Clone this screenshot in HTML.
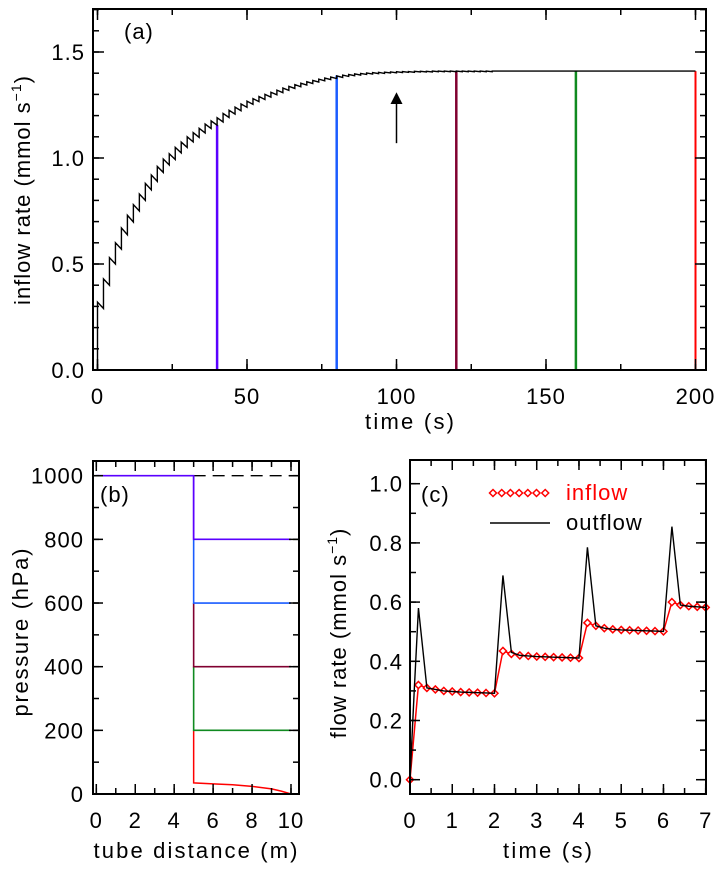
<!DOCTYPE html>
<html><head><meta charset="utf-8"><style>
html,body{margin:0;padding:0;background:#fff;}
svg{display:block;font-family:"Liberation Sans",sans-serif;}
</style></head><body>
<svg id="fig" width="723" height="871" viewBox="0 0 723 871" xmlns="http://www.w3.org/2000/svg"></svg>
<script>
// ---- Panel (a) data ----
const aStepTimes = [0,2,4,6,8,10,12,14,16,18,20,22,24,26,28,30,32,34,36,38,40,42,44,46,48,50,52,54,56,58,60,62,64,66,68,70,72,74,76,78,80,82,84,86,88,90,92,94,96,98,100,102,104,106,108,110,112,114,116,118,120,122,124,126,128,130];
const aPeaks = [0.32,0.43,0.53,0.60,0.67,0.73,0.78,0.83,0.88,0.92,0.96,0.995,1.02,1.05,1.075,1.10,1.12,1.14,1.16,1.175,1.19,1.21,1.225,1.24,1.255,1.268,1.28,1.29,1.30,1.31,1.32,1.33,1.338,1.346,1.353,1.36,1.366,1.372,1.377,1.382,1.387,1.391,1.394,1.397,1.399,1.401,1.403,1.404,1.405,1.406,1.407,1.408,1.408,1.409,1.409,1.409,1.41,1.41,1.41,1.41,1.41,1.41,1.41,1.41,1.41,1.41];
const aAmps = [0.03,0.03,0.03,0.03,0.032,0.032,0.03,0.03,0.03,0.03,0.028,0.028,0.027,0.026,0.025,0.024,0.023,0.022,0.021,0.02,0.02,0.019,0.018,0.017,0.016,0.015,0.014,0.014,0.013,0.012,0.012,0.011,0.01,0.01,0.009,0.009,0.008,0.008,0.007,0.007,0.007,0.006,0.006,0.006,0.005,0.005,0.005,0.005,0.004,0.004,0.004,0.004,0.004,0.003,0.003,0.003,0.003,0.003,0.003,0.003,0.003,0.003,0.003,0.003,0.003,0.003];
const aPlateau = 1.41;
const aEndTime = 200;
const aMarkTimes = [40,80,120,160,200];
const aMarkTops = [1.156,1.39,1.41,1.41,1.41];
const aMarkColors = ["#5a00ff","#1a5cff","#800030","#108a20","#ff0000"];
const aXTicks = [0,50,100,150,200];
const aYTicks = [0.0,0.5,1.0,1.5];
const aYTickLabels = ["0.0","0.5","1.0","1.5"];
// ---- Panel (b) data ----
const bXTicks = [0,2,4,6,8,10];
const bYTicks = [0,200,400,600,800,1000];
const bLevels = [800,600,400,200];
const bColors = ["#5a00ff","#1a5cff","#800030","#108a20"];
const bRedX = [5,6,7,8,9,9.5,10];
const bRedP = [35,32,29,24,16,9,0];
// ---- Panel (c) data ----
const cInT = [0,0.2,0.4,0.6,0.8,1.0,1.2,1.4,1.6,1.8,2.0,2.2,2.4,2.6,2.8,3.0,3.2,3.4,3.6,3.8,4.0,4.2,4.4,4.6,4.8,5.0,5.2,5.4,5.6,5.8,6.0,6.2,6.4,6.6,6.8,7.0];
const cInV = [0,0.32,0.31,0.305,0.30,0.298,0.296,0.295,0.294,0.293,0.292,0.435,0.425,0.42,0.418,0.416,0.415,0.414,0.413,0.412,0.411,0.53,0.52,0.512,0.508,0.506,0.505,0.504,0.503,0.502,0.501,0.60,0.59,0.586,0.584,0.582];
const cOutT = [0,0.1,0.2,0.4,0.6,0.8,1.0,1.2,1.4,1.6,1.8,2.0,2.2,2.4,2.6,2.8,3.0,3.2,3.4,3.6,3.8,4.0,4.2,4.4,4.6,4.8,5.0,5.2,5.4,5.6,5.8,6.0,6.2,6.4,6.6,6.8,7.0];
const cOutV = [0,0.30,0.58,0.31,0.305,0.30,0.298,0.296,0.295,0.294,0.293,0.292,0.69,0.43,0.42,0.418,0.416,0.415,0.414,0.413,0.412,0.411,0.785,0.52,0.512,0.508,0.506,0.505,0.504,0.503,0.502,0.501,0.855,0.59,0.586,0.584,0.582];
const cXTicks = [0,1,2,3,4,5,6,7];
const cYTicks = [0.0,0.2,0.4,0.6,0.8,1.0];
const cYTickLabels = ["0.0","0.2","0.4","0.6","0.8","1.0"];

const NS="http://www.w3.org/2000/svg";
const svg=document.getElementById('fig');
function mk(tag,attrs,parent){const e=document.createElementNS(NS,tag);for(const k in attrs)e.setAttribute(k,attrs[k]);(parent||svg).appendChild(e);return e;}
function scale(d0,d1,p0,p1){return v=>p0+(v-d0)*(p1-p0)/(d1-d0);}
const FS=22;

function frame(g,L,T,R,B){
  const r=mk('rect',{x:L,y:T,width:R-L,height:B-T,fill:'none',stroke:'#000','stroke-width':2},g);
  
  
}
function ticks(g,vals,sx,sy,L,T,R,B,axis,len){
  vals.forEach(v=>{
    if(axis==='x'){const x=sx(v);
      mk('line',{x1:x,y1:B,x2:x,y2:B-len,stroke:'#000','stroke-width':1.5},g);
      mk('line',{x1:x,y1:T,x2:x,y2:T+len,stroke:'#000','stroke-width':1.5},g);}
    else {const y=sy(v);
      mk('line',{x1:L,y1:y,x2:L+len,y2:y,stroke:'#000','stroke-width':1.5},g);
      mk('line',{x1:R,y1:y,x2:R-len,y2:y,stroke:'#000','stroke-width':1.5},g);}
  });
}
function txt(g,x,y,s,attrs,name){
  const t=mk('text',Object.assign({x:x,y:y,'font-size':FS,fill:'#000','letter-spacing':1},attrs||{}),g);
  t.textContent=s;
  
  
  return t;
}
function rangeStep(a,b,s){const o=[];for(let v=a;v<=b+1e-9;v+=s)o.push(+v.toFixed(6));return o;}

// ================= Panel (a) =================
(function(){
  const g=mk('g',{});
  
  
  const L=93,R=706,T=9,B=370;
  const sx=scale(0,50,97.5,247), sy=scale(0,1,370,158);
  aMarkTimes.forEach((t,i)=>{
    const l=mk('line',{x1:sx(t),y1:sy(0),x2:sx(t),y2:sy(aMarkTops[i]),stroke:aMarkColors[i],'stroke-width':i===4?2:2.5},g);
    
    
  });
  let d=`M${sx(0)},${sy(0)}`;
  aStepTimes.forEach((t,i)=>{
    const next = i+1<aStepTimes.length ? aStepTimes[i+1] : t+2;
    d+=` L${sx(t)},${sy(aPeaks[i])} L${sx(next)},${sy(aPeaks[i]-aAmps[i])}`;
  });
  d+=` L${sx(aStepTimes[aStepTimes.length-1]+2)},${sy(aPlateau)} L${sx(aEndTime)},${sy(aPlateau)}`;
  const p=mk('path',{d:d,fill:'none',stroke:'#000','stroke-width':1.4},g);
  
  
  const ar=mk('line',{x1:sx(100),y1:sy(1.07),x2:sx(100),y2:sy(1.27),stroke:'#000','stroke-width':1.5},g);
  
  
  const ah=mk('polygon',{points:`${sx(100)},${sy(1.31)} ${sx(100)-6},${sy(1.255)} ${sx(100)+6},${sy(1.255)}`,fill:'#000'},g);
  
  
  frame(g,L,T,R,B);
  ticks(g,rangeStep(0,200,25),sx,sy,L,T,R,B,'x',6);
  ticks(g,aXTicks,sx,sy,L,T,R,B,'x',11);
  ticks(g,rangeStep(0,1.7,0.1),sx,sy,L,T,R,B,'y',6);
  ticks(g,aYTicks,sx,sy,L,T,R,B,'y',11);
  aXTicks.forEach(v=>txt(g,sx(v),404,String(v),{'text-anchor':'middle'},'x-tick-label'));
  aYTicks.forEach((v,i)=>txt(g,85,sy(v)+8,aYTickLabels[i],{'text-anchor':'end'},'y-tick-label'));
  txt(g,124,39,'(a)',{},'panel-label-a');
  txt(g,410,429,'time (s)',{'text-anchor':'middle',textLength:90},'x-axis-title');
  const yt=txt(g,0,0,'inflow rate (mmol s',{'text-anchor':'middle',transform:'translate(30,190) rotate(-90)'},'y-axis-title');
  const sup=mk('tspan',{'font-size':14,dy:-9},yt); sup.textContent='−1';
  const cl=mk('tspan',{dy:9},yt); cl.textContent=')';
})();

// ================= Panel (b) =================
(function(){
  const g=mk('g',{});
  
  
  const L=93,R=299,T=461,B=794;
  const sx=scale(0,10,96.3,291), sy=scale(0,1000,794,475.7);
  const dash=mk('line',{x1:sx(5),y1:sy(1000),x2:sx(10.3),y2:sy(1000),stroke:'#000','stroke-width':1.4,'stroke-dasharray':'12,7'},g);
  
  
  let d=`M${sx(5)},${sy(bLevels[3])} L${sx(bRedX[0])},${sy(bRedP[0])}`;
  bRedX.forEach((x,i)=>{d+=` L${sx(x)},${sy(bRedP[i])}`;});
  const rp=mk('path',{d:d,fill:'none',stroke:'#ff0000','stroke-width':1.5},g);
  
  
  for(let i=bLevels.length-1;i>=0;i--){
    const dd=`M${sx(5)},${sy(i===0?1000:bLevels[i-1])} L${sx(5)},${sy(bLevels[i])} L${sx(10)},${sy(bLevels[i])}`;
    const pp=mk('path',{d:dd,fill:'none',stroke:bColors[i],'stroke-width':1.6},g);
    
    
  }
  const hp=mk('path',{d:`M${sx(0)},${sy(1000)} L${sx(5)},${sy(1000)} L${sx(5)},${sy(bLevels[0])}`,fill:'none',stroke:bColors[0],'stroke-width':1.6},g);
  
  
  frame(g,L,T,R,B);
  ticks(g,rangeStep(0,10,1),sx,sy,L,T,R,B,'x',6);
  ticks(g,bXTicks,sx,sy,L,T,R,B,'x',10);
  ticks(g,rangeStep(0,1000,100),sx,sy,L,T,R,B,'y',6);
  ticks(g,bYTicks,sx,sy,L,T,R,B,'y',10);
  bXTicks.forEach(v=>txt(g,sx(v),828,String(v),{'text-anchor':'middle'},'x-tick-label'));
  bYTicks.forEach(v=>txt(g,84,sy(v)+8,String(v),{'text-anchor':'end'},'y-tick-label'));
  txt(g,100,502,'(b)',{},'panel-label-b');
  txt(g,196,858,'tube distance (m)',{'text-anchor':'middle',textLength:205},'x-axis-title');
  txt(g,0,0,'pressure (hPa)',{'text-anchor':'middle',transform:'translate(28,632) rotate(-90)',textLength:169},'y-axis-title');
})();

// ================= Panel (c) =================
(function(){
  const g=mk('g',{});
  
  
  const L=410,R=706,T=460,B=794;
  const sx=scale(0,7,410,705.7), sy=scale(0,1,779.7,483.7);
  const inPath=cInT.map((t,i)=>(i?'L':'M')+sx(t)+','+sy(cInV[i])).join(' ');
  const ip=mk('path',{d:inPath,fill:'none',stroke:'#ff0000','stroke-width':1.5},g);
  
  
  function diamond(x,y){
    const dm=mk('polygon',{points:`${x},${y-3.5} ${x+3.5},${y} ${x},${y+3.5} ${x-3.5},${y}`,fill:'#fff',stroke:'#ff0000','stroke-width':1.5},g);
    
    
  }
  cInT.forEach((t,i)=>diamond(sx(t),sy(cInV[i])));
  const outPath=cOutT.map((t,i)=>(i?'L':'M')+sx(t)+','+sy(cOutV[i])).join(' ');
  const op=mk('path',{d:outPath,fill:'none',stroke:'#000','stroke-width':1.4},g);
  
  
  frame(g,L,T,R,B);
  ticks(g,rangeStep(0,7,0.5),sx,sy,L,T,R,B,'x',6);
  ticks(g,cXTicks,sx,sy,L,T,R,B,'x',10);
  ticks(g,rangeStep(0,1.0,0.1),sx,sy,L,T,R,B,'y',6);
  ticks(g,cYTicks,sx,sy,L,T,R,B,'y',10);
  cXTicks.forEach(v=>txt(g,sx(v),828,String(v),{'text-anchor':'middle'},'x-tick-label'));
  cYTicks.forEach((v,i)=>txt(g,403,sy(v)+8,cYTickLabels[i],{'text-anchor':'end'},'y-tick-label'));
  txt(g,421,502,'(c)',{},'panel-label-c');
  const lg=mk('g',{},g);
  
  
  for(let k=0;k<7;k++){
    const x=493+k*8.7,y=493;
    const dm=mk('polygon',{points:`${x},${y-3.5} ${x+3.5},${y} ${x},${y+3.5} ${x-3.5},${y}`,fill:'#fff',stroke:'#ff0000','stroke-width':1.5},lg);
    
    
  }
  txt(lg,566,500,'inflow',{fill:'#ff0000'},'legend-inflow-label');
  const ll=mk('line',{x1:490,y1:523,x2:550,y2:523,stroke:'#000','stroke-width':1.4},lg);
  
  
  txt(lg,566,530,'outflow',{},'legend-outflow-label');
  txt(g,548,858,'time (s)',{'text-anchor':'middle',textLength:90},'x-axis-title');
  const yt=txt(g,0,0,'flow rate (mmol s',{'text-anchor':'middle',transform:'translate(346,633) rotate(-90)'},'y-axis-title');
  const sup=mk('tspan',{'font-size':14,dy:-9},yt); sup.textContent='−1';
  const cl=mk('tspan',{dy:9},yt); cl.textContent=')';
})();
</script>
</body></html>
